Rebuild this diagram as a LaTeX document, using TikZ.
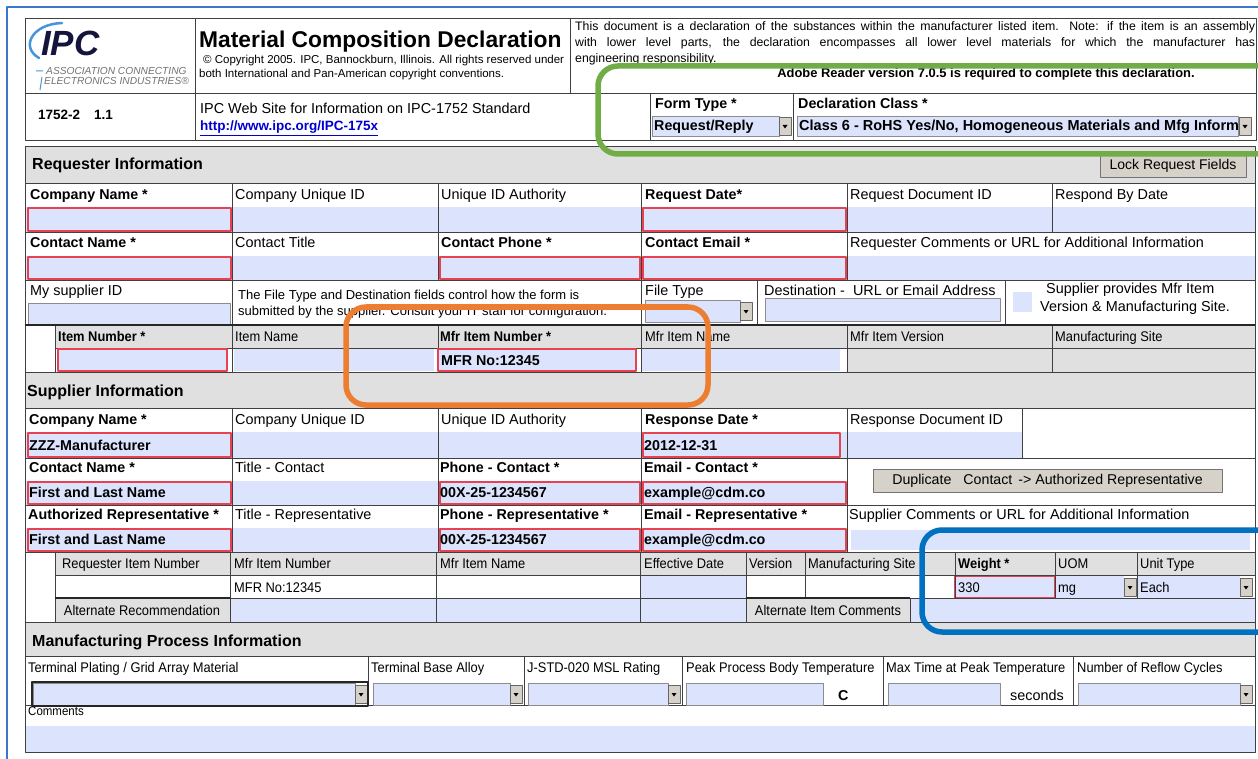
\documentclass[tikz,border=0pt]{standalone}
\usepackage{fontspec}
\setmainfont{Liberation Sans}
\newfontfamily\narrowfont[FakeStretch=0.92]{Liberation Sans}
\newcommand{\pxsize}[1]{\fontsize{#1}{#1}\selectfont}
\definecolor{fldblue}{RGB}{220,227,252}
\definecolor{bandgray}{RGB}{224,224,224}
\definecolor{btngray}{RGB}{214,210,202}
\definecolor{reqred}{RGB}{232,66,82}
\definecolor{hlgreen}{RGB}{112,173,71}
\definecolor{hlorange}{RGB}{237,125,49}
\definecolor{hlblue}{RGB}{0,112,192}
\definecolor{framecol}{RGB}{60,120,200}
\definecolor{logoblue}{RGB}{70,150,220}
\definecolor{ipcnavy}{RGB}{20,20,60}
\definecolor{linkblue}{RGB}{0,0,210}
% small drop-down button: left x, centre y
\newcommand{\dropbtn}[2]{\draw[fill=btngray, draw=black!60, line width=0.6pt] (#1,#2) ++(0,-9) rectangle ++(12,18);
  \fill (#1,#2) ++(3.5,-1) -- ++(5,0) -- ++(-2.5,3.5) -- cycle;}
\begin{document}
\begin{tikzpicture}[x=1pt,y=-1pt,line join=round,
  gridln/.style={draw=black!75, line width=0.9pt},
  band/.style={fill=bandgray, draw=black!75, line width=0.9pt},
  fld/.style={fill=fldblue},
  fldline/.style={fill=fldblue, draw=black!45, line width=0.6pt},
  rfld/.style={fill=fldblue, draw=reqred, line width=2.2pt},
  btnbox/.style={fill=btngray, draw=black!55, line width=0.8pt, inner sep=0pt},
  lbl/.style={anchor=base west, inner sep=0pt, font=\pxsize{14.4}},
  lblb/.style={anchor=base west, inner sep=0pt, font=\pxsize{14.3}\bfseries},
  nlbl/.style={anchor=base west, inner sep=0pt, font=\narrowfont\pxsize{14}},
  nlblb/.style={anchor=base west, inner sep=0pt, font=\narrowfont\pxsize{14}\bfseries},
  sect/.style={anchor=base west, inner sep=0pt, font=\pxsize{16}\bfseries},
  hl/.style={line width=5.5pt, rounded corners=20pt}]
\useasboundingbox (0,0) rectangle (1258,759);
\clip (0,0) rectangle (1258,759);
\fill[white] (0,0) rectangle (1258,759);
\draw[framecol, line width=1.5pt] (7,759) -- (7,7) -- (1258,7);

% header
\draw[gridln] (25,18) rectangle (1256,140);
\draw[gridln] (195,18) -- (195,140) (570,18) -- (570,93) (25,93) -- (1256,93) (650,93) -- (650,140) (793,93) -- (793,140);
\draw[logoblue, line width=2.5pt, line cap=round] (62,23) .. controls (32,24) and (20,47) .. (39,58);
\node[anchor=base west, inner sep=0pt, font=\pxsize{35}\bfseries\itshape, text=ipcnavy] (ipclogo) at (41,56) {IPC};
\draw[logoblue, line width=1pt] (36,71) -- (43,71) (42,77) -- (40,90);
\node[anchor=base west, inner sep=0pt, font=\pxsize{10.2}\itshape, text=black!55] (assoc) at (46,75) {ASSOCIATION CONNECTING};
\node[anchor=base west, inner sep=0pt, font=\pxsize{10.2}\itshape, text=black!55] (elec) at (44,85) {ELECTRONICS INDUSTRIES®};
\node[anchor=base west, inner sep=0pt, font=\pxsize{22.8}\bfseries] (title) at (199,48) {Material Composition Declaration};
\node[anchor=base west, inner sep=0pt, font=\pxsize{11.5}] (copy1) at (203,64) {© Copyright 2005. IPC, Bannockburn, Illinois. All rights reserved under};
\node[anchor=base west, inner sep=0pt, font=\pxsize{11.5}] (copy2) at (199,78) {both International and Pan-American copyright conventions.};
\node[anchor=base west, inner sep=0pt, font=\pxsize{12.3}] (desc1) at (575,31) {\makebox[680pt][s]{This document is a declaration of the substances within the manufacturer listed item. Note: if the item is an assembly}};
\node[anchor=base west, inner sep=0pt, font=\pxsize{12.3}] (desc2) at (575,47) {\makebox[680pt][s]{with lower level parts, the declaration encompasses all lower level materials for which the manufacturer has}};
\node[anchor=base west, inner sep=0pt, font=\pxsize{12.3}] (desc3) at (575,63) {engineering responsibility.};
\node[anchor=base, inner sep=0pt, font=\pxsize{12.9}\bfseries] (adobe) at (986,78) {Adobe Reader version 7.0.5 is required to complete this declaration.};
\node[lblb, font=\pxsize{13.5}\bfseries] (stdno) at (38,120) {1752-2\hspace{14pt}1.1};
\node[lbl] (website) at (200,114) {IPC Web Site for Information on IPC-1752 Standard};
\node[lblb, font=\pxsize{13.5}\bfseries, text=linkblue] (weblink) at (200,131) {\underline{http://www.ipc.org/IPC-175x}};
\node[lblb] (formtype) at (655,109) {Form Type *};
\path[fldline] (652,116) rectangle (779,136);
\node[lblb] (formval) at (654,131) {Request/Reply};
\dropbtn{779}{126}
\node[lblb] (declclass) at (798,109) {Declaration Class *};
\path[fldline] (797,116) rectangle (1238,136);
\begin{scope}
\clip (797,116) rectangle (1238,136);
\node[lblb, font=\pxsize{14.5}\bfseries] (declval) at (799,131) {Class 6 - RoHS Yes/No, Homogeneous Materials and Mfg Inform};
\end{scope}
\dropbtn{1239}{126}

% requester information
\path[band] (25,146) rectangle (1255,183);
\node[sect] (reqhead) at (32,170) {Requester Information};
\node[btnbox, minimum width=146pt, minimum height=22pt, font=\pxsize{14}] (lockbtn) at (1173,166) {Lock Request Fields};
\path[fld] (25,207) rectangle (1255,232);
\path[fld] (25,256) rectangle (1255,280);
\draw[gridln] (25,183) rectangle (1255,325);
\draw[gridln] (25,232) -- (1255,232) (25,280) -- (1255,280);
\draw[gridln] (232,183) -- (232,325) (438,183) -- (438,280) (641,183) -- (641,325) (847,183) -- (847,280) (1052,183) -- (1052,232);
\draw[gridln] (757,280) -- (757,325) (1005,280) -- (1005,325);
\draw[rfld] (28,208) rectangle (231,231);
\draw[rfld] (643,208) rectangle (846,231);
\draw[rfld] (28,257) rectangle (231,279);
\draw[rfld] (440,257) rectangle (640,279);
\draw[rfld] (643,257) rectangle (846,279);
\node[lblb] (rqcomp) at (30,200) {Company Name *};
\node[lbl] (rqcuid) at (235,200) {Company Unique ID};
\node[lbl] (rqauth) at (441,200) {Unique ID Authority};
\node[lblb] (rqdate) at (645,200) {Request Date*};
\node[lbl] (rqdoc) at (850,200) {Request Document ID};
\node[lbl] (rqby) at (1055,200) {Respond By Date};
\node[lblb] (rqcname) at (30,248) {Contact Name *};
\node[lbl] (rqctitle) at (235,248) {Contact Title};
\node[lblb] (rqphone) at (441,248) {Contact Phone *};
\node[lblb] (rqmail) at (645,248) {Contact Email *};
\node[lbl] (rqcomm) at (850,248) {Requester Comments or URL for Additional Information};
\node[lbl] (mysup) at (30,295) {My supplier ID};
\path[fldline] (28,303) rectangle (230,324);
\node[lbl, font=\pxsize{13}] (note1) at (238,300) {The File Type and Destination fields control how the form is};
\node[lbl, font=\pxsize{13}] (note2) at (238,316) {submitted by the supplier. Consult your IT staff for configuration.};
\node[lbl] (ftype) at (645,296) {File Type};
\path[fldline] (645,300) rectangle (740,322);
\dropbtn{740}{311}
\node[lbl] (dest) at (764,295) {Destination -\ \ URL or Email Address};
\path[fldline] (765,298) rectangle (1000,321);
\path[fld] (1013,292) rectangle (1032,312);
\node[lbl] (supprov1) at (1046,294) {Supplier provides Mfr Item};
\node[lbl] (supprov2) at (1040,312) {Version \& Manufacturing Site.};

% requested item
\path[fill=bandgray] (55,325) rectangle (1255,348);
\path[fill=bandgray] (847,348) rectangle (1255,372);
\draw[gridln] (25,325) rectangle (1255,372);
\draw[gridln] (55,325) -- (55,372) (55,348) -- (1255,348);
\draw[gridln] (232,325) -- (232,372) (438,325) -- (438,372) (641,325) -- (641,372) (847,325) -- (847,372) (1052,325) -- (1052,372);
\draw[black!85, line width=2pt] (25,325) -- (1255,325);
\draw[rfld] (58,349) rectangle (227,371);
\path[fld] (234,349) rectangle (434,371);
\draw[rfld] (438,349) rectangle (636,371);
\path[fld] (642,349) rectangle (840,371);
\node[nlblb] (itnum) at (58,341) {Item Number *};
\node[nlbl] (itname) at (235,341) {Item Name};
\node[nlblb] (itmfrnum) at (440,341) {Mfr Item Number *};
\node[nlbl] (itmfrname) at (645,341) {Mfr Item Name};
\node[nlbl] (itmfrver) at (850,341) {Mfr Item Version};
\node[nlbl] (itsite) at (1055,341) {Manufacturing Site};
\node[lblb] (itmfrval) at (441,365) {MFR No:12345};

% supplier information
\path[band] (25,372) rectangle (1255,408);
\node[sect] (suphead) at (27,396) {Supplier Information};
\path[fld] (25,432) rectangle (1022,458);
\path[fld] (25,481) rectangle (847,505);
\path[fld] (25,528) rectangle (847,552);
\path[fld] (851,530) rectangle (1250,550);
\draw[gridln] (25,408) rectangle (1255,552);
\draw[gridln] (25,458) -- (1255,458) (25,505) -- (1255,505);
\draw[gridln] (232,408) -- (232,552) (438,408) -- (438,552) (641,408) -- (641,552) (847,408) -- (847,552) (1022,408) -- (1022,458);
\draw[rfld] (28,433) rectangle (231,457);
\draw[rfld] (643,433) rectangle (840,457);
\draw[rfld] (28,482) rectangle (231,504);
\draw[rfld] (440,482) rectangle (640,504);
\draw[rfld] (643,482) rectangle (846,504);
\draw[rfld] (28,529) rectangle (231,551);
\draw[rfld] (440,529) rectangle (640,551);
\draw[rfld] (643,529) rectangle (846,551);
\node[lblb] (spcomp) at (29,424) {Company Name *};
\node[lbl] (spcuid) at (235,424) {Company Unique ID};
\node[lbl] (spauth) at (441,424) {Unique ID Authority};
\node[lblb] (spdate) at (645,424) {Response Date *};
\node[lbl] (spdoc) at (850,424) {Response Document ID};
\node[lblb] (spcompval) at (29,450) {ZZZ-Manufacturer};
\node[lblb] (spdateval) at (644,450) {2012-12-31};
\node[lblb] (spcname) at (29,472) {Contact Name *};
\node[lbl] (spctitle) at (235,472) {Title - Contact};
\node[lblb] (spphone) at (440,472) {Phone - Contact *};
\node[lblb] (spmail) at (644,472) {Email - Contact *};
\node[lblb] (spcnameval) at (29,497) {First and Last Name};
\node[lblb] (spphoneval) at (440,497) {00X-25-1234567};
\node[lblb] (spmailval) at (644,497) {example@cdm.co};
\node[btnbox, minimum width=349pt, minimum height=23pt, font=\pxsize{14.2}] (dupbtn) at (1047.5,481) {Duplicate\hspace{12pt}Contact\hspace{6pt}-> Authorized Representative};
\node[lblb] (sprep) at (28,519) {Authorized Representative *};
\node[lbl] (sprtitle) at (235,519) {Title - Representative};
\node[lblb] (sprphone) at (440,519) {Phone - Representative *};
\node[lblb] (sprmail) at (644,519) {Email - Representative *};
\node[lbl] (spcomm) at (849,519) {Supplier Comments or URL for Additional Information};
\node[lblb] (sprepval) at (29,544) {First and Last Name};
\node[lblb] (sprphoneval) at (440,544) {00X-25-1234567};
\node[lblb] (sprmailval) at (644,544) {example@cdm.co};

% supplied item
\path[fill=bandgray] (55,552) rectangle (1255,575);
\path[fld] (641,575) rectangle (746,598);
\path[fill=bandgray] (55,598) rectangle (230,622);
\path[fld] (230,598) rectangle (746,622);
\path[fill=bandgray] (746,598) rectangle (910,622);
\path[fld] (910,598) rectangle (1255,622);
\draw[rfld] (955,576) rectangle (1055,598);
\path[fld] (1056,576) rectangle (1124,598);
\dropbtn{1124}{587}
\path[fld] (1138,576) rectangle (1240,598);
\dropbtn{1240}{587}
\draw[gridln] (25,552) rectangle (1255,622);
\draw[gridln] (55,552) -- (55,622) (55,575) -- (1255,575) (55,598) -- (1255,598);
\draw[gridln] (230,552) -- (230,622) (436,552) -- (436,622) (640,552) -- (640,622) (746,552) -- (746,622) (805,552) -- (805,598) (922,552) -- (922,598) (955,552) -- (955,598) (1055,552) -- (1055,598) (1137,552) -- (1137,598) (910,598) -- (910,622);
\draw[black!85, line width=2pt] (55,598) -- (230,598) (746,598) -- (910,598);
\node[nlbl] (sirq) at (62,568) {Requester Item Number};
\node[nlbl] (simfr) at (234,568) {Mfr Item Number};
\node[nlbl] (siname) at (440,568) {Mfr Item Name};
\node[nlbl] (sieff) at (644,568) {Effective Date};
\node[nlbl] (siver) at (749,568) {Version};
\node[nlbl] (sisite) at (808,568) {Manufacturing Site};
\node[nlblb] (siweight) at (958,568) {Weight *};
\node[nlbl] (siuom) at (1058,568) {UOM};
\node[nlbl] (siunit) at (1140,568) {Unit Type};
\node[nlbl] (simfrval) at (234,592) {MFR No:12345};
\node[nlbl] (siweightval) at (958,592) {330};
\node[nlbl] (siuomval) at (1058,592) {mg};
\node[nlbl] (siunitval) at (1140,592) {Each};
\node[nlbl, anchor=base] (sialt) at (142,615) {Alternate Recommendation};
\node[nlbl, anchor=base] (sialtcomm) at (828,615) {Alternate Item Comments};

% manufacturing process information
\path[band] (25,622) rectangle (1255,656);
\node[sect] (mfghead) at (32,646) {Manufacturing Process Information};
\path[fld] (25,726) rectangle (1255,752);
\draw[gridln] (25,656) rectangle (1255,752);
\draw[gridln] (25,705) -- (1255,705);
\draw[gridln] (368,656) -- (368,705) (524,656) -- (524,705) (682,656) -- (682,705) (883,656) -- (883,705) (1073,656) -- (1073,705);
\node[nlbl] (mpplat) at (28,672) {Terminal Plating / Grid Array Material};
\node[nlbl] (mpbase) at (371,672) {Terminal Base Alloy};
\node[nlbl] (mpmsl) at (527,672) {J-STD-020 MSL Rating};
\node[nlbl] (mppeak) at (686,672) {Peak Process Body Temperature};
\node[nlbl] (mptime) at (886,672) {Max Time at Peak Temperature};
\node[nlbl] (mpreflow) at (1077,672) {Number of Reflow Cycles};
\path[fldline] (33,683) rectangle (355,705);
\dropbtn{355}{694}
\draw[black!85, line width=1.5pt] (32,682) rectangle (368,706);
\path[fldline] (373,683) rectangle (510,705);
\dropbtn{510}{694}
\path[fldline] (528,683) rectangle (668,705);
\dropbtn{668}{694}
\path[fldline] (686,683) rectangle (823,705);
\node[lblb] (mpdeg) at (838,700) {C};
\path[fldline] (888,683) rectangle (1000,705);
\node[lbl] (mpsec) at (1010,700) {seconds};
\path[fldline] (1078,683) rectangle (1240,705);
\dropbtn{1240}{694}
\node[nlbl, font=\narrowfont\pxsize{12.5}] (mpcomm) at (28,715) {Comments};

% highlights
\draw[hl, draw=hlgreen] (598,66) rectangle (1300,154);
\draw[hl, draw=hlorange] (346,307) rectangle (708,405);
\draw[hl, draw=hlblue] (922,530) rectangle (1300,632);
\end{tikzpicture}
\end{document}
